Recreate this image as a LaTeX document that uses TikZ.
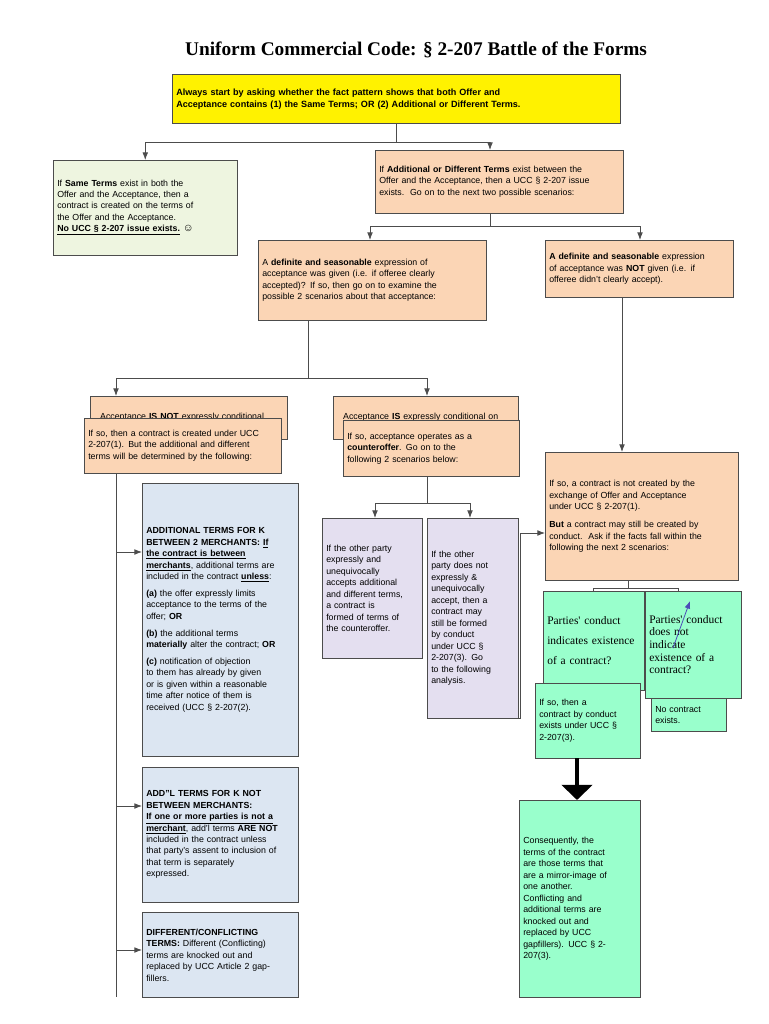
\documentclass[tikz,border=0pt]{standalone}
\usepackage{fontspec}
\setmainfont{Liberation Sans}
\newfontfamily\tnr{Liberation Serif}
\usetikzlibrary{arrows.meta}
\definecolor{peach}{HTML}{FBD5B5}
\definecolor{pale}{HTML}{EEF5E0}
\definecolor{lav}{HTML}{E4DFF0}
\definecolor{aqua}{HTML}{99FFCC}
\definecolor{bluegray}{HTML}{DCE6F2}
\tikzset{
	box/.style={draw=black!70, anchor=north west, align=left, inner sep=3pt,
		font=\fontsize{6.6}{8.6}\selectfont},
	arr/.style={-{Latex[length=2mm]}},
	ln/.style={draw=black!70, line width=0.6pt}
}
\begin{document}
\begin{tikzpicture}[x=0.75pt,y=-0.75pt]
	\useasboundingbox (0,0) rectangle (768,1024);
	\node (title) at (416,50) {\tnr\bfseries\fontsize{14.5}{16}\selectfont Uniform Commercial Code: \S\ 2-207 Battle of the Forms};
	\node (start) [box, fill=yellow, text width=330pt, minimum height=37pt, font=\bfseries\fontsize{6.8}{9}\selectfont] at (172,74) {Always start by asking whether the fact pattern shows that both Offer and\\Acceptance contains (1) the Same Terms; OR (2) Additional or Different Terms.};
	\node (same) [box, fill=pale, text width=132pt, minimum height=71pt] at (53,160) {If \textbf{Same Terms} exist in both the\\Offer and the Acceptance, then a\\contract is created on the terms of\\the Offer and the Acceptance.\\\textbf{\underline{No UCC \S\ 2-207 issue exists.}} \smash{\fontsize{8}{8}\selectfont\char"263A}};
	\node (addl) [box, fill=peach, text width=180pt, minimum height=47pt] at (375,150) {If \textbf{Additional or Different Terms} exist between the\\Offer and the Acceptance, then a UCC \S\ 2-207 issue\\exists.\ \ Go on to the next two possible scenarios:};
	\node (given) [box, fill=peach, text width=165pt, minimum height=60pt] at (258,240) {A \textbf{definite and seasonable} expression of\\acceptance was given (i.e. if offeree clearly\\accepted)? If so, then go on to examine the\\possible 2 scenarios about that acceptance:};
	\node (notgiven) [box, fill=peach, text width=135pt, minimum height=43pt] at (545,240) {\textbf{A definite and seasonable} expression\\of acceptance was \textbf{NOT} given (i.e. if\\offeree didn't clearly accept).};
	% acceptance not conditional
	\node (isnotb) [box, fill=peach, text width=142pt, minimum height=32pt] at (90,396) {\ \ Acceptance \textbf{IS NOT} expressly conditional};
	\node (isnot) [box, fill=peach, text width=142pt, minimum height=41pt] at (84,418) {If so, then a contract is created under UCC\\2-207(1). But the additional and different\\terms will be determined by the following:};
	\node (isb) [box, fill=peach, text width=133pt, minimum height=32pt] at (333,396) {\ \ Acceptance \textbf{IS} expressly conditional on};
	\node (is) [box, fill=peach, text width=126pt, minimum height=42pt] at (343,420) {If so, acceptance operates as a\\\textbf{counteroffer}. Go on to the\\following 2 scenarios below:};
	% counteroffer branches
	\node (accepts) [box, fill=lav, text width=69pt, minimum height=105pt] at (322,518) {If the other party\\expressly and\\unequivocally\\accepts additional\\and different terms,\\a contract is\\formed of terms of\\the counteroffer.\\[18pt]};
	\node (rejects) [box, fill=lav, text width=62pt, minimum height=150pt] at (427,518) {If the other\\party does not\\expressly \&\\unequivocally\\accept, then a\\contract may\\still be formed\\by conduct\\under UCC \S\\2-207(3). Go\\to the following\\analysis.};
	\node (nocreate) [box, fill=peach, text width=139pt, minimum height=96pt] at (545,452) {If so, a contract is not created by the\\exchange of Offer and Acceptance\\under UCC \S\ 2-207(1).\\[5pt]\textbf{But} a contract may still be created by\\conduct.\ \ Ask if the facts fall within the\\following the next 2 scenarios:};
	% conduct
	\node (nocontract) [box, fill=aqua, text width=50pt, minimum height=25pt] at (651,698) {No contract\\exists.};
	\node (yes) [box, fill=aqua, text width=70pt, minimum height=74pt, font=\tnr\fontsize{8.6}{15}\selectfont] at (543,591) {Parties' conduct\\indicates existence\\of a contract?};
	\node (no) [box, fill=aqua, text width=66pt, minimum height=80pt, font=\tnr\fontsize{8.6}{9.5}\selectfont] at (645,591) {Parties' conduct\\does not\\indicate\\existence of a\\contract?};
	\node (byconduct) [box, fill=aqua, text width=73pt, minimum height=56pt] at (535,683) {If so, then a\\contract by conduct\\exists under UCC \S\\2-207(3).};
	\node (conseq) [box, fill=aqua, text width=85pt, minimum height=148pt] at (519,800) {Consequently, the\\terms of the contract\\are those terms that\\are a mirror-image of\\one another.\\Conflicting and\\additional terms are\\knocked out and\\replaced by UCC\\gapfillers). UCC \S\ 2-\\207(3).};
	% blue boxes
	\node (merch) [box, fill=bluegray, text width=111pt, minimum height=205pt] at (142,483) {\textbf{ADDITIONAL TERMS FOR K}\\\textbf{BETWEEN 2 MERCHANTS: \underline{If}}\\\textbf{\underline{the contract is between}}\\\textbf{\underline{merchants}}, additional terms are\\included in the contract \textbf{\underline{unless}}:\\[4pt]\textbf{(a)} the offer expressly limits\\acceptance to the terms of the\\offer; \textbf{OR}\\[4pt]\textbf{(b)} the additional terms\\\textbf{materially} alter the contract; \textbf{OR}\\[4pt]\textbf{(c)} notification of objection\\to them has already by given\\or is given within a reasonable\\time after notice of them is\\received (UCC \S\ 2-207(2).};
	\node (nonmerch) [box, fill=bluegray, text width=111pt, minimum height=101pt] at (142,767) {\textbf{ADD"L TERMS FOR K NOT}\\\textbf{BETWEEN MERCHANTS:}\\\textbf{\underline{If one or more parties is not a}}\\\textbf{\underline{merchant}}, add'l terms \textbf{ARE NOT}\\included in the contract unless\\that party's assent to inclusion of\\that term is separately\\expressed.};
	\node (diff) [box, fill=bluegray, text width=111pt, minimum height=64pt] at (142,912) {\textbf{DIFFERENT/CONFLICTING}\\\textbf{TERMS:} Different (Conflicting)\\terms are knocked out and\\replaced by UCC Article 2 gap-\\fillers.};
	% connectors
	\draw[ln] (start.south) -- ++(0,19) coordinate (j1);
	\draw[ln, arr] (j1) -| (same.north);
	\draw[ln, arr] (j1) -| (addl.north -| 490,0);
	\draw[ln] (addl.south -| 490,0) -- ++(0,13) coordinate (j2);
	\draw[ln, arr] (j2) -| (given.north -| 370,0);
	\draw[ln, arr] (j2) -| (notgiven.north -| 640,0);
	\draw[ln] (given.south -| 308,0) -- ++(0,58) coordinate (j3);
	\draw[ln, arr] (j3) -| (isnotb.north -| 116,0);
	\draw[ln, arr] (j3) -| (isb.north -| 427,0);
	\draw[ln, arr] (notgiven.south -| 622,0) -- (nocreate.north -| 622,0);
	\draw[ln] (isnot.south -| 116,0) -- (116,997) coordinate (j4);
	\draw[ln, arr] (116,552) -- (merch.west |- 0,552);
	\draw[ln, arr] (116,806) -- (nonmerch.west |- 0,806);
	\draw[ln, arr] (116,950) -- (diff.west |- 0,950);
	\draw[ln] (is.south -| 427,0) -- ++(0,27) coordinate (j5);
	\draw[ln, arr] (j5) -| (accepts.north -| 375,0);
	\draw[ln, arr] (j5) -| (rejects.north -| 470,0);
	\draw[ln, arr] (rejects.south east) -- ++(2,0) |- (nocreate.west |- 0,533);
	\draw[ln] (nocreate.south -| 628,0) -- ++(0,8) coordinate (j6);
	\draw[ln] (j6) -| (yes.north -| 593,0);
	\draw[ln] (j6) -| (no.north -| 678,0);
	\draw[line width=3pt, -{Triangle[length=4mm, width=8mm]}] (byconduct.south -| 577,0) -- (conseq.north -| 577,0);
	\draw[ln, arr, draw=blue!60!black!70] (673,648) -- (690,601);
\end{tikzpicture}
\end{document}
